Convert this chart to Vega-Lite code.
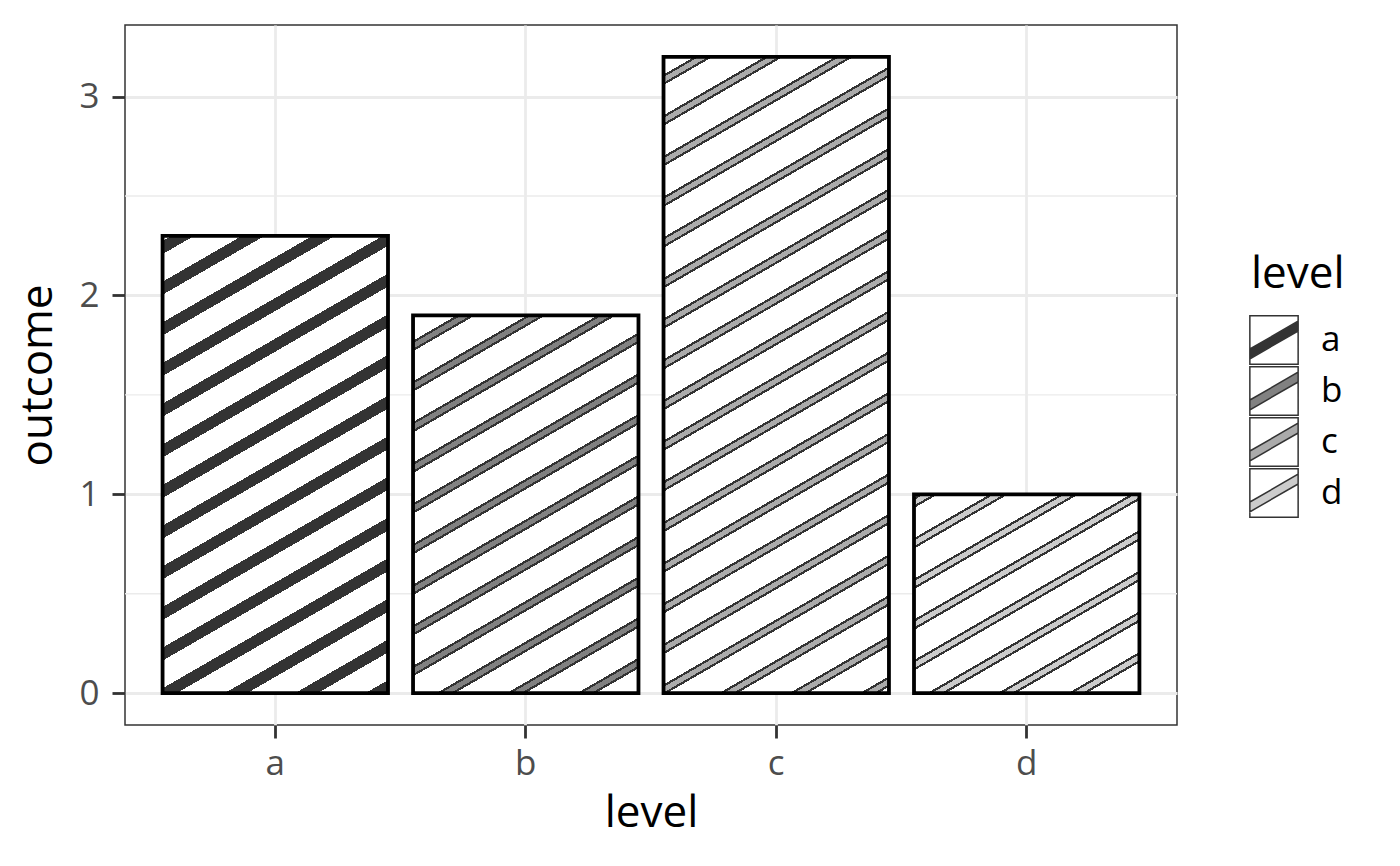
{
  "$schema": "https://vega.github.io/schema/vega-lite/v6.json",
  "width": 1052,
  "height": 700,
  "autosize": {"type": "none"},
  "padding": {"left": 125, "top": 25, "right": 223, "bottom": 141},
  "background": "white",
  "config": {
    "font": "Open Sans",
    "view": {"stroke": "#333333", "strokeWidth": 1.5},
    "axis": {
      "domain": false,
      "grid": true,
      "gridColor": "#EBEBEB",
      "gridWidth": 2.8,
      "tickColor": "#333333",
      "tickWidth": 2.8,
      "tickSize": 13,
      "labelFontSize": 35,
      "labelColor": "#4D4D4D",
      "titleFontSize": 44,
      "titleFontWeight": "normal",
      "titleColor": "#000000"
    }
  },
  "layer": [
    {
      "data": {"values": [{"minor": 0.5}, {"minor": 1.5}, {"minor": 2.5}]},
      "mark": {"type": "rule", "color": "#EBEBEB", "strokeWidth": 1.4},
      "encoding": {
        "y": {
          "field": "minor", "type": "quantitative",
          "scale": {"domain": [-0.16, 3.36], "nice": false, "zero": false},
          "axis": {"title": "outcome", "values": [0, 1, 2, 3], "format": "d", "labelPadding": 13, "titlePadding": 18}
        }
      }
    },
    {
      "data": {"values": [
        {"level": "a", "outcome": 2.3},
        {"level": "b", "outcome": 1.9},
        {"level": "c", "outcome": 3.2},
        {"level": "d", "outcome": 1.0}
      ]},
      "layer": [
        {
          "mark": {"type": "bar", "stroke": "#000000", "strokeWidth": 3.8},
          "encoding": {
            "x": {
              "field": "level", "type": "nominal",
              "scale": {"paddingInner": 0.1, "paddingOuter": 0.15},
              "axis": {"title": "level", "labelAngle": 0, "bandPosition": 0.5, "labelPadding": 8, "titlePadding": 10}
            },
            "y": {
              "field": "outcome", "type": "quantitative",
              "scale": {"domain": [-0.16, 3.36], "nice": false, "zero": false},
              "axis": {"title": "outcome", "values": [0, 1, 2, 3], "format": "d", "labelPadding": 13, "titlePadding": 18}
            },
            "fill": {
              "condition": [
                {"test": "datum.level === 'a'", "value": {"gradient": "linear", "x1": -0.004921, "y1": -0.017293, "x2": 0.463059, "y2": 1.627319, "stops": [
                  {"offset": 0.0170, "color": "#fff"}, {"offset": 0.0170, "color": "#333"}, {"offset": 0.0330, "color": "#333"}, {"offset": 0.0330, "color": "#fff"},
                  {"offset": 0.0670, "color": "#fff"}, {"offset": 0.0670, "color": "#333"}, {"offset": 0.0830, "color": "#333"}, {"offset": 0.0830, "color": "#fff"},
                  {"offset": 0.1170, "color": "#fff"}, {"offset": 0.1170, "color": "#333"}, {"offset": 0.1330, "color": "#333"}, {"offset": 0.1330, "color": "#fff"},
                  {"offset": 0.1670, "color": "#fff"}, {"offset": 0.1670, "color": "#333"}, {"offset": 0.1830, "color": "#333"}, {"offset": 0.1830, "color": "#fff"},
                  {"offset": 0.2170, "color": "#fff"}, {"offset": 0.2170, "color": "#333"}, {"offset": 0.2330, "color": "#333"}, {"offset": 0.2330, "color": "#fff"},
                  {"offset": 0.2670, "color": "#fff"}, {"offset": 0.2670, "color": "#333"}, {"offset": 0.2830, "color": "#333"}, {"offset": 0.2830, "color": "#fff"},
                  {"offset": 0.3170, "color": "#fff"}, {"offset": 0.3170, "color": "#333"}, {"offset": 0.3330, "color": "#333"}, {"offset": 0.3330, "color": "#fff"},
                  {"offset": 0.3670, "color": "#fff"}, {"offset": 0.3670, "color": "#333"}, {"offset": 0.3830, "color": "#333"}, {"offset": 0.3830, "color": "#fff"},
                  {"offset": 0.4170, "color": "#fff"}, {"offset": 0.4170, "color": "#333"}, {"offset": 0.4330, "color": "#333"}, {"offset": 0.4330, "color": "#fff"},
                  {"offset": 0.4670, "color": "#fff"}, {"offset": 0.4670, "color": "#333"}, {"offset": 0.4830, "color": "#333"}, {"offset": 0.4830, "color": "#fff"},
                  {"offset": 0.5170, "color": "#fff"}, {"offset": 0.5170, "color": "#333"}, {"offset": 0.5330, "color": "#333"}, {"offset": 0.5330, "color": "#fff"},
                  {"offset": 0.5670, "color": "#fff"}, {"offset": 0.5670, "color": "#333"}, {"offset": 0.5830, "color": "#333"}, {"offset": 0.5830, "color": "#fff"},
                  {"offset": 0.6170, "color": "#fff"}, {"offset": 0.6170, "color": "#333"}, {"offset": 0.6330, "color": "#333"}, {"offset": 0.6330, "color": "#fff"},
                  {"offset": 0.6670, "color": "#fff"}, {"offset": 0.6670, "color": "#333"}, {"offset": 0.6830, "color": "#333"}, {"offset": 0.6830, "color": "#fff"},
                  {"offset": 0.7170, "color": "#fff"}, {"offset": 0.7170, "color": "#333"}, {"offset": 0.7330, "color": "#333"}, {"offset": 0.7330, "color": "#fff"}
                ]}},
                {"test": "datum.level === 'b'", "value": {"gradient": "linear", "x1": 0.008370, "y1": 0.024300, "x2": 0.671046, "y2": 1.948099, "stops": [
                  {"offset": 0.0185, "color": "#fff"}, {"offset": 0.0185, "color": "#333"}, {"offset": 0.0216, "color": "#333"}, {"offset": 0.0216, "color": "#818181"}, {"offset": 0.0284, "color": "#818181"}, {"offset": 0.0284, "color": "#333"}, {"offset": 0.0315, "color": "#333"}, {"offset": 0.0315, "color": "#fff"},
                  {"offset": 0.0685, "color": "#fff"}, {"offset": 0.0685, "color": "#333"}, {"offset": 0.0716, "color": "#333"}, {"offset": 0.0716, "color": "#818181"}, {"offset": 0.0784, "color": "#818181"}, {"offset": 0.0784, "color": "#333"}, {"offset": 0.0815, "color": "#333"}, {"offset": 0.0815, "color": "#fff"},
                  {"offset": 0.1185, "color": "#fff"}, {"offset": 0.1185, "color": "#333"}, {"offset": 0.1216, "color": "#333"}, {"offset": 0.1216, "color": "#818181"}, {"offset": 0.1284, "color": "#818181"}, {"offset": 0.1284, "color": "#333"}, {"offset": 0.1315, "color": "#333"}, {"offset": 0.1315, "color": "#fff"},
                  {"offset": 0.1685, "color": "#fff"}, {"offset": 0.1685, "color": "#333"}, {"offset": 0.1716, "color": "#333"}, {"offset": 0.1716, "color": "#818181"}, {"offset": 0.1784, "color": "#818181"}, {"offset": 0.1784, "color": "#333"}, {"offset": 0.1815, "color": "#333"}, {"offset": 0.1815, "color": "#fff"},
                  {"offset": 0.2185, "color": "#fff"}, {"offset": 0.2185, "color": "#333"}, {"offset": 0.2216, "color": "#333"}, {"offset": 0.2216, "color": "#818181"}, {"offset": 0.2284, "color": "#818181"}, {"offset": 0.2284, "color": "#333"}, {"offset": 0.2315, "color": "#333"}, {"offset": 0.2315, "color": "#fff"},
                  {"offset": 0.2685, "color": "#fff"}, {"offset": 0.2685, "color": "#333"}, {"offset": 0.2716, "color": "#333"}, {"offset": 0.2716, "color": "#818181"}, {"offset": 0.2784, "color": "#818181"}, {"offset": 0.2784, "color": "#333"}, {"offset": 0.2815, "color": "#333"}, {"offset": 0.2815, "color": "#fff"},
                  {"offset": 0.3185, "color": "#fff"}, {"offset": 0.3185, "color": "#333"}, {"offset": 0.3216, "color": "#333"}, {"offset": 0.3216, "color": "#818181"}, {"offset": 0.3284, "color": "#818181"}, {"offset": 0.3284, "color": "#333"}, {"offset": 0.3315, "color": "#333"}, {"offset": 0.3315, "color": "#fff"},
                  {"offset": 0.3685, "color": "#fff"}, {"offset": 0.3685, "color": "#333"}, {"offset": 0.3716, "color": "#333"}, {"offset": 0.3716, "color": "#818181"}, {"offset": 0.3784, "color": "#818181"}, {"offset": 0.3784, "color": "#333"}, {"offset": 0.3815, "color": "#333"}, {"offset": 0.3815, "color": "#fff"},
                  {"offset": 0.4185, "color": "#fff"}, {"offset": 0.4185, "color": "#333"}, {"offset": 0.4216, "color": "#333"}, {"offset": 0.4216, "color": "#818181"}, {"offset": 0.4284, "color": "#818181"}, {"offset": 0.4284, "color": "#333"}, {"offset": 0.4315, "color": "#333"}, {"offset": 0.4315, "color": "#fff"},
                  {"offset": 0.4685, "color": "#fff"}, {"offset": 0.4685, "color": "#333"}, {"offset": 0.4716, "color": "#333"}, {"offset": 0.4716, "color": "#818181"}, {"offset": 0.4784, "color": "#818181"}, {"offset": 0.4784, "color": "#333"}, {"offset": 0.4815, "color": "#333"}, {"offset": 0.4815, "color": "#fff"},
                  {"offset": 0.5185, "color": "#fff"}, {"offset": 0.5185, "color": "#333"}, {"offset": 0.5216, "color": "#333"}, {"offset": 0.5216, "color": "#818181"}, {"offset": 0.5284, "color": "#818181"}, {"offset": 0.5284, "color": "#333"}, {"offset": 0.5315, "color": "#333"}, {"offset": 0.5315, "color": "#fff"},
                  {"offset": 0.5685, "color": "#fff"}, {"offset": 0.5685, "color": "#333"}, {"offset": 0.5716, "color": "#333"}, {"offset": 0.5716, "color": "#818181"}, {"offset": 0.5784, "color": "#818181"}, {"offset": 0.5784, "color": "#333"}, {"offset": 0.5815, "color": "#333"}, {"offset": 0.5815, "color": "#fff"}
                ]}},
                {"test": "datum.level === 'c'", "value": {"gradient": "linear", "x1": 0.000853, "y1": 0.004171, "x2": 0.251698, "y2": 1.230652, "stops": [
                  {"offset": 0.0185, "color": "#fff"}, {"offset": 0.0185, "color": "#333"}, {"offset": 0.0216, "color": "#333"}, {"offset": 0.0216, "color": "#ababab"}, {"offset": 0.0284, "color": "#ababab"}, {"offset": 0.0284, "color": "#333"}, {"offset": 0.0315, "color": "#333"}, {"offset": 0.0315, "color": "#fff"},
                  {"offset": 0.0685, "color": "#fff"}, {"offset": 0.0685, "color": "#333"}, {"offset": 0.0716, "color": "#333"}, {"offset": 0.0716, "color": "#ababab"}, {"offset": 0.0784, "color": "#ababab"}, {"offset": 0.0784, "color": "#333"}, {"offset": 0.0815, "color": "#333"}, {"offset": 0.0815, "color": "#fff"},
                  {"offset": 0.1185, "color": "#fff"}, {"offset": 0.1185, "color": "#333"}, {"offset": 0.1216, "color": "#333"}, {"offset": 0.1216, "color": "#ababab"}, {"offset": 0.1284, "color": "#ababab"}, {"offset": 0.1284, "color": "#333"}, {"offset": 0.1315, "color": "#333"}, {"offset": 0.1315, "color": "#fff"},
                  {"offset": 0.1685, "color": "#fff"}, {"offset": 0.1685, "color": "#333"}, {"offset": 0.1716, "color": "#333"}, {"offset": 0.1716, "color": "#ababab"}, {"offset": 0.1784, "color": "#ababab"}, {"offset": 0.1784, "color": "#333"}, {"offset": 0.1815, "color": "#333"}, {"offset": 0.1815, "color": "#fff"},
                  {"offset": 0.2185, "color": "#fff"}, {"offset": 0.2185, "color": "#333"}, {"offset": 0.2216, "color": "#333"}, {"offset": 0.2216, "color": "#ababab"}, {"offset": 0.2284, "color": "#ababab"}, {"offset": 0.2284, "color": "#333"}, {"offset": 0.2315, "color": "#333"}, {"offset": 0.2315, "color": "#fff"},
                  {"offset": 0.2685, "color": "#fff"}, {"offset": 0.2685, "color": "#333"}, {"offset": 0.2716, "color": "#333"}, {"offset": 0.2716, "color": "#ababab"}, {"offset": 0.2784, "color": "#ababab"}, {"offset": 0.2784, "color": "#333"}, {"offset": 0.2815, "color": "#333"}, {"offset": 0.2815, "color": "#fff"},
                  {"offset": 0.3185, "color": "#fff"}, {"offset": 0.3185, "color": "#333"}, {"offset": 0.3216, "color": "#333"}, {"offset": 0.3216, "color": "#ababab"}, {"offset": 0.3284, "color": "#ababab"}, {"offset": 0.3284, "color": "#333"}, {"offset": 0.3315, "color": "#333"}, {"offset": 0.3315, "color": "#fff"},
                  {"offset": 0.3685, "color": "#fff"}, {"offset": 0.3685, "color": "#333"}, {"offset": 0.3716, "color": "#333"}, {"offset": 0.3716, "color": "#ababab"}, {"offset": 0.3784, "color": "#ababab"}, {"offset": 0.3784, "color": "#333"}, {"offset": 0.3815, "color": "#333"}, {"offset": 0.3815, "color": "#fff"},
                  {"offset": 0.4185, "color": "#fff"}, {"offset": 0.4185, "color": "#333"}, {"offset": 0.4216, "color": "#333"}, {"offset": 0.4216, "color": "#ababab"}, {"offset": 0.4284, "color": "#ababab"}, {"offset": 0.4284, "color": "#333"}, {"offset": 0.4315, "color": "#333"}, {"offset": 0.4315, "color": "#fff"},
                  {"offset": 0.4685, "color": "#fff"}, {"offset": 0.4685, "color": "#333"}, {"offset": 0.4716, "color": "#333"}, {"offset": 0.4716, "color": "#ababab"}, {"offset": 0.4784, "color": "#ababab"}, {"offset": 0.4784, "color": "#333"}, {"offset": 0.4815, "color": "#333"}, {"offset": 0.4815, "color": "#fff"},
                  {"offset": 0.5185, "color": "#fff"}, {"offset": 0.5185, "color": "#333"}, {"offset": 0.5216, "color": "#333"}, {"offset": 0.5216, "color": "#ababab"}, {"offset": 0.5284, "color": "#ababab"}, {"offset": 0.5284, "color": "#333"}, {"offset": 0.5315, "color": "#333"}, {"offset": 0.5315, "color": "#fff"},
                  {"offset": 0.5685, "color": "#fff"}, {"offset": 0.5685, "color": "#333"}, {"offset": 0.5716, "color": "#333"}, {"offset": 0.5716, "color": "#ababab"}, {"offset": 0.5784, "color": "#ababab"}, {"offset": 0.5784, "color": "#333"}, {"offset": 0.5815, "color": "#333"}, {"offset": 0.5815, "color": "#fff"},
                  {"offset": 0.6185, "color": "#fff"}, {"offset": 0.6185, "color": "#333"}, {"offset": 0.6216, "color": "#333"}, {"offset": 0.6216, "color": "#ababab"}, {"offset": 0.6284, "color": "#ababab"}, {"offset": 0.6284, "color": "#333"}, {"offset": 0.6315, "color": "#333"}, {"offset": 0.6315, "color": "#fff"},
                  {"offset": 0.6685, "color": "#fff"}, {"offset": 0.6685, "color": "#333"}, {"offset": 0.6716, "color": "#333"}, {"offset": 0.6716, "color": "#ababab"}, {"offset": 0.6784, "color": "#ababab"}, {"offset": 0.6784, "color": "#333"}, {"offset": 0.6815, "color": "#333"}, {"offset": 0.6815, "color": "#fff"},
                  {"offset": 0.7185, "color": "#fff"}, {"offset": 0.7185, "color": "#333"}, {"offset": 0.7216, "color": "#333"}, {"offset": 0.7216, "color": "#ababab"}, {"offset": 0.7284, "color": "#ababab"}, {"offset": 0.7284, "color": "#333"}, {"offset": 0.7315, "color": "#333"}, {"offset": 0.7315, "color": "#fff"},
                  {"offset": 0.7685, "color": "#fff"}, {"offset": 0.7685, "color": "#333"}, {"offset": 0.7716, "color": "#333"}, {"offset": 0.7716, "color": "#ababab"}, {"offset": 0.7784, "color": "#ababab"}, {"offset": 0.7784, "color": "#333"}, {"offset": 0.7815, "color": "#333"}, {"offset": 0.7815, "color": "#fff"},
                  {"offset": 0.8185, "color": "#fff"}, {"offset": 0.8185, "color": "#333"}, {"offset": 0.8216, "color": "#333"}, {"offset": 0.8216, "color": "#ababab"}, {"offset": 0.8284, "color": "#ababab"}, {"offset": 0.8284, "color": "#333"}, {"offset": 0.8315, "color": "#333"}, {"offset": 0.8315, "color": "#fff"},
                  {"offset": 0.8685, "color": "#fff"}, {"offset": 0.8685, "color": "#333"}, {"offset": 0.8716, "color": "#333"}, {"offset": 0.8716, "color": "#ababab"}, {"offset": 0.8784, "color": "#ababab"}, {"offset": 0.8784, "color": "#333"}, {"offset": 0.8815, "color": "#333"}, {"offset": 0.8815, "color": "#fff"},
                  {"offset": 0.9185, "color": "#fff"}, {"offset": 0.9185, "color": "#333"}, {"offset": 0.9216, "color": "#333"}, {"offset": 0.9216, "color": "#ababab"}, {"offset": 0.9284, "color": "#ababab"}, {"offset": 0.9284, "color": "#333"}, {"offset": 0.9315, "color": "#333"}, {"offset": 0.9315, "color": "#fff"}
                ]}},
                {"test": "datum.level === 'd'", "value": {"gradient": "linear", "x1": -0.027418, "y1": -0.041893, "x2": 1.846175, "y2": 2.820815, "stops": [
                  {"offset": 0.0185, "color": "#fff"}, {"offset": 0.0185, "color": "#333"}, {"offset": 0.0216, "color": "#333"}, {"offset": 0.0216, "color": "#cccccc"}, {"offset": 0.0284, "color": "#cccccc"}, {"offset": 0.0284, "color": "#333"}, {"offset": 0.0315, "color": "#333"}, {"offset": 0.0315, "color": "#fff"},
                  {"offset": 0.0685, "color": "#fff"}, {"offset": 0.0685, "color": "#333"}, {"offset": 0.0716, "color": "#333"}, {"offset": 0.0716, "color": "#cccccc"}, {"offset": 0.0784, "color": "#cccccc"}, {"offset": 0.0784, "color": "#333"}, {"offset": 0.0815, "color": "#333"}, {"offset": 0.0815, "color": "#fff"},
                  {"offset": 0.1185, "color": "#fff"}, {"offset": 0.1185, "color": "#333"}, {"offset": 0.1216, "color": "#333"}, {"offset": 0.1216, "color": "#cccccc"}, {"offset": 0.1284, "color": "#cccccc"}, {"offset": 0.1284, "color": "#333"}, {"offset": 0.1315, "color": "#333"}, {"offset": 0.1315, "color": "#fff"},
                  {"offset": 0.1685, "color": "#fff"}, {"offset": 0.1685, "color": "#333"}, {"offset": 0.1716, "color": "#333"}, {"offset": 0.1716, "color": "#cccccc"}, {"offset": 0.1784, "color": "#cccccc"}, {"offset": 0.1784, "color": "#333"}, {"offset": 0.1815, "color": "#333"}, {"offset": 0.1815, "color": "#fff"},
                  {"offset": 0.2185, "color": "#fff"}, {"offset": 0.2185, "color": "#333"}, {"offset": 0.2216, "color": "#333"}, {"offset": 0.2216, "color": "#cccccc"}, {"offset": 0.2284, "color": "#cccccc"}, {"offset": 0.2284, "color": "#333"}, {"offset": 0.2315, "color": "#333"}, {"offset": 0.2315, "color": "#fff"},
                  {"offset": 0.2685, "color": "#fff"}, {"offset": 0.2685, "color": "#333"}, {"offset": 0.2716, "color": "#333"}, {"offset": 0.2716, "color": "#cccccc"}, {"offset": 0.2784, "color": "#cccccc"}, {"offset": 0.2784, "color": "#333"}, {"offset": 0.2815, "color": "#333"}, {"offset": 0.2815, "color": "#fff"},
                  {"offset": 0.3185, "color": "#fff"}, {"offset": 0.3185, "color": "#333"}, {"offset": 0.3216, "color": "#333"}, {"offset": 0.3216, "color": "#cccccc"}, {"offset": 0.3284, "color": "#cccccc"}, {"offset": 0.3284, "color": "#333"}, {"offset": 0.3315, "color": "#333"}, {"offset": 0.3315, "color": "#fff"},
                  {"offset": 0.3685, "color": "#fff"}, {"offset": 0.3685, "color": "#333"}, {"offset": 0.3716, "color": "#333"}, {"offset": 0.3716, "color": "#cccccc"}, {"offset": 0.3784, "color": "#cccccc"}, {"offset": 0.3784, "color": "#333"}, {"offset": 0.3815, "color": "#333"}, {"offset": 0.3815, "color": "#fff"}
                ]}}
              ],
              "value": "white"
            }
          }
        },
        {
          "mark": {"type": "point", "filled": true, "opacity": 0, "strokeWidth": 1.5},
          "encoding": {
            "x": {"field": "level", "type": "nominal"},
            "y": {"field": "outcome", "type": "quantitative"},
            "stroke": {"value": "#333333"},
            "fill": {
              "field": "level", "type": "nominal",
              "scale": {"range": ["#333333", "#818181", "#ababab", "#cccccc"]},
              "legend": {
                "title": "level",
                "orient": "none",
                "legendX": 1126,
                "legendY": 228,
                "padding": 0,
                "symbolType": "M-1.085,-1.085L1.085,-1.085L1.085,1.085L-1.085,1.085Z M-1.085,-1.085L-1.085,1.085L1.085,1.085L1.085,-1.085Z M-1.085,0.8464L-1.085,0.4064L1.085,-0.8464L1.085,-0.4064Z",
                "symbolSize": 1980,
                "symbolOpacity": 1,
                "symbolStrokeColor": "#333333",
                "symbolStrokeWidth": 1.5,
                "rowPadding": -7,
                "labelFontSize": 35,
                "labelColor": "#000000",
                "labelOffset": 24,
                "titleFontSize": 44,
                "titleFontWeight": "normal",
                "titleColor": "#000000",
                "titlePadding": 20
              }
            }
          }
        }
      ]
    }
  ]
}
